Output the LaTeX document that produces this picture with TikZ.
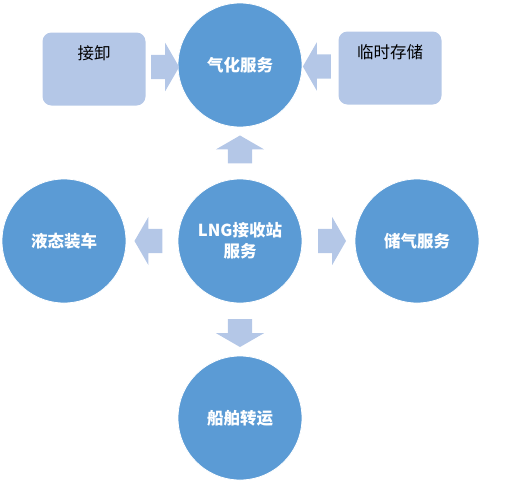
\documentclass[tikz,border=0pt]{standalone}
\usepackage{fontspec}
\newfontfamily\cjk{Noto Sans CJK SC}
\usetikzlibrary{shapes.arrows,calc}

\definecolor{svcblue}{HTML}{5B9BD5}
\definecolor{paleblue}{HTML}{B4C7E7}

\begin{document}
\begin{tikzpicture}[x=1pt,y=-1pt,
    svc/.style={circle, fill=svcblue, draw=white, line width=0.8pt,
      minimum size=124pt, inner sep=0pt, text=white, align=center,
      font=\cjk\bfseries\fontsize{16.5}{21}\selectfont},
    side/.style={fill=paleblue, rounded corners=9pt,
      minimum width=103pt, minimum height=73pt},
    sidetext/.style={font=\cjk\fontsize{16.5}{21}\selectfont},
    fat/.style={single arrow, fill=paleblue, inner xsep=0pt, inner ysep=12pt,
      minimum height=28pt, single arrow head extend=12pt,
      single arrow tip angle=120}]
  \useasboundingbox (0,0) rectangle (506,480);

  % 圆
  \node[svc] (gas)    at (240,65)  {气化服务};
  \node[svc] (lng)    at (240,241) {LNG接收站\\服务};
  \node[svc] (truck)  at (64,241)  {液态装车};
  \node[svc] (store)  at (417,241) {储气服务};
  \node[svc] (ship)   at (240,418) {船舶转运};

  % 方框
  \node[side] (unload) at (94,69) {};
  \node[side] (temp)   at (390,68) {};
  \node[sidetext, anchor=north] (unloadtxt) at ($(unload.north)+(0,10)$) {接卸};
  \node[sidetext, anchor=north] (temptxt) at ($(temp.north)+(0,10)$) {临时存储};

  % 箭头
  \node[fat] (a1) at ($(unload.east)!0.5!(gas.west)$) {};
  \node[fat, rotate=180] (a2) at ($(temp.west)!0.5!(gas.east)$) {};
  \node[fat, rotate=90] (a3) at ($(lng.north)!0.5!(gas.south)$) {};
  \node[fat, rotate=180] (a4) at ($(lng.west)!0.5!(truck.east)$) {};
  \node[fat] (a5) at ($(lng.east)!0.5!(store.west)$) {};
  \node[fat, rotate=-90] (a6) at ($(lng.south)!0.5!(ship.north)$) {};
\end{tikzpicture}
\end{document}
